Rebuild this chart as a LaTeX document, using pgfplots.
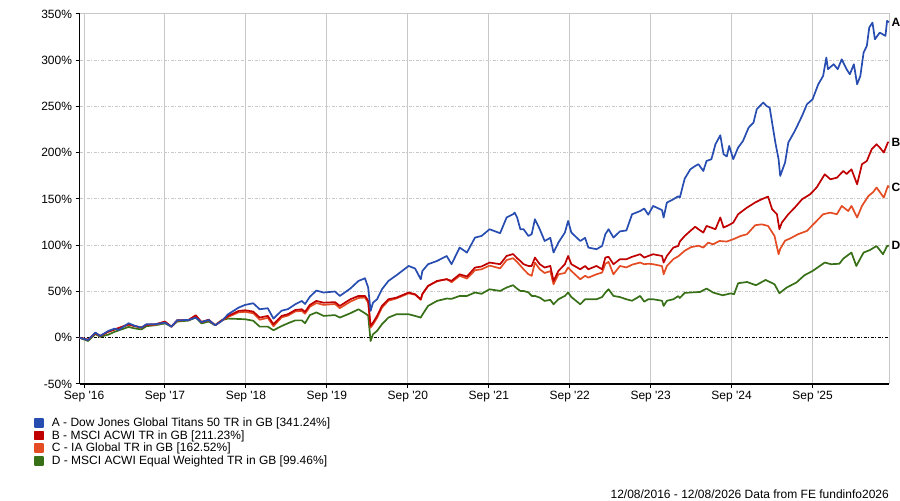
\documentclass[border=0pt]{standalone}
\usepackage{pgfplots}
\pgfplotsset{compat=1.18}
\usepackage{fontspec}
\setmainfont{Liberation Sans}[Ligatures=TeXOff]

\definecolor{serA}{RGB}{40,77,177}
\definecolor{serB}{RGB}{192,0,0}
\definecolor{serC}{RGB}{228,76,36}
\definecolor{serD}{RGB}{56,112,24}
\definecolor{gridgray}{RGB}{200,200,200}

\newcommand{\chartfont}{\fontsize{12bp}{14bp}\selectfont}

\begin{document}
\begin{tikzpicture}
\path[use as bounding box] (0bp,0bp) rectangle (900bp,501bp);
\begin{axis}[
  at={(79.5bp,117bp)}, anchor=south west, scale only axis,
  width=809.5bp, height=370bp,
  xmin=2016.614, xmax=2026.614, ymin=-50, ymax=350,
  axis x line*=bottom, axis y line*=left,
  axis line style={black, line width=1.3bp, -},
  xtick={2016.67,2017.67,2018.67,2019.67,2020.67,2021.67,2022.67,2023.67,2024.67,2025.67},
  xticklabels={Sep '16,Sep '17,Sep '18,Sep '19,Sep '20,Sep '21,Sep '22,Sep '23,Sep '24,Sep '25},
  ytick={-50,0,50,100,150,200,250,300,350},
  yticklabels={-50\%,0\%,50\%,100\%,150\%,200\%,250\%,300\%,350\%},
  tick align=outside, major tick length=4bp,
  tick style={black, line width=1bp},
  xmajorgrids, major grid style={gridgray, line width=1bp, solid},
  ticklabel style={font=\chartfont},
  clip=false,
  every axis plot/.append style={line width=1.7bp, line join=round, no markers},
  reverse legend,
  legend cell align=left,
  legend image code/.code={\fill[#1] (0bp,-3bp) rectangle (8bp,5bp);},
  legend style={at={(axis description cs:-0.0562,-0.09)}, anchor=north west,
    draw=none, fill=none, inner sep=0pt, font=\chartfont, row sep=0bp,
    nodes={inner sep=0bp, text height=9bp, text depth=3.7bp},
    /tikz/every odd column/.append style={column sep=8bp}},
]
% horizontal grid, zero line and grey frame
\pgfplotsinvokeforeach{50,100,150,200,250,300}{
  \draw[gridgray, line width=1bp, dash pattern=on 3bp off 1.5bp on 1bp off 1.5bp]
    (axis cs:2016.614,#1) -- (axis cs:2026.614,#1);
}
\draw[black, line width=1bp, dash pattern=on 3bp off 1.5bp on 1bp off 1.5bp]
  (axis cs:2016.614,0) -- (axis cs:2026.614,0);
\draw[gridgray, line width=1bp] (axis description cs:0,1) -- (axis description cs:1,1) -- (axis description cs:1,0);

% D - MSCI ACWI Equal Weighted
\addplot[color=serD] coordinates {
(2016.614,0) (2016.72,-3.5) (2016.81,4.0) (2016.87,1.0) (2016.97,3.4) (2017.05,6.5)
(2017.22,11.7) (2017.30,10.0) (2017.38,9.0) (2017.44,12.5) (2017.55,13.5) (2017.67,15.5)
(2017.75,12.0) (2017.82,17.5) (2017.96,18.5) (2018.05,22.0) (2018.12,15.5) (2018.21,17.5)
(2018.29,13.5) (2018.37,19.0) (2018.45,20.7) (2018.58,20.3) (2018.66,20.0) (2018.76,18.4)
(2018.84,12.0) (2018.94,12.0) (2019.01,8.1) (2019.11,12.6) (2019.19,15.7) (2019.28,18.8)
(2019.36,18.8) (2019.40,15.7) (2019.46,24.5) (2019.54,27.4) (2019.63,23.6) (2019.77,24.5)
(2019.83,21.8) (2019.96,26.5) (2020.06,30.8) (2020.14,26.5) (2020.18,24.0) (2020.21,-3.5)
(2020.24,3.8) (2020.29,7.4) (2020.35,14.6) (2020.43,21.8) (2020.53,25.4) (2020.68,25.4)
(2020.76,23.6) (2020.83,21.8) (2020.85,25.0) (2020.92,34.4) (2021.03,39.8) (2021.15,42.4)
(2021.21,42.0) (2021.31,45.2) (2021.40,45.2) (2021.50,48.9) (2021.58,47.5) (2021.68,52.4)
(2021.81,50.6) (2021.89,54.3) (2021.97,56.8) (2022.02,53.0) (2022.06,50.6) (2022.10,50.6)
(2022.16,49.0) (2022.20,45.2) (2022.24,45.2) (2022.30,43.4) (2022.36,39.8) (2022.43,41.0)
(2022.47,36.2) (2022.53,41.6) (2022.61,45.2) (2022.65,48.9) (2022.69,44.0) (2022.80,36.2)
(2022.86,41.6) (2022.90,41.6) (2023.00,41.6) (2023.07,44.0) (2023.11,48.9) (2023.15,52.4)
(2023.21,45.2) (2023.29,44.0) (2023.37,41.6) (2023.44,40.0) (2023.54,45.2) (2023.59,39.0)
(2023.64,41.6) (2023.70,41.6) (2023.81,40.0) (2023.83,34.4) (2023.87,40.0) (2023.95,41.6)
(2024.01,45.0) (2024.03,43.0) (2024.09,48.5) (2024.16,48.9) (2024.28,49.5) (2024.36,53.2)
(2024.44,48.9) (2024.56,45.9) (2024.66,48.0) (2024.70,47.0) (2024.75,58.9) (2024.86,60.3)
(2024.97,56.8) (2025.09,62.5) (2025.20,57.8) (2025.26,48.1) (2025.35,54.3) (2025.47,59.7)
(2025.57,67.6) (2025.67,72.2) (2025.82,81.3) (2025.90,79.5) (2026.00,80.0) (2026.05,85.6)
(2026.15,92.1) (2026.21,77.6) (2026.30,92.1) (2026.38,94.9) (2026.46,99.2) (2026.54,90.3)
(2026.59,99.2) (2026.614,99.46)
};
\addlegendentry{D - MSCI ACWI Equal Weighted TR in GB [99.46\%]}

% C - IA Global
\addplot[color=serC] coordinates {
(2016.614,0) (2016.72,-2.2) (2016.81,5.0) (2016.87,2.0) (2016.97,6.5) (2017.05,9.0)
(2017.22,14.0) (2017.30,12.5) (2017.38,11.0) (2017.44,14.0) (2017.55,14.0) (2017.67,17.0)
(2017.75,12.0) (2017.82,18.5) (2017.96,19.0) (2018.05,23.5) (2018.12,17.0) (2018.21,19.0)
(2018.29,13.5) (2018.37,18.5) (2018.45,22.5) (2018.58,27.5) (2018.66,28.0) (2018.76,26.5)
(2018.84,19.5) (2018.94,21.5) (2019.01,12.5) (2019.11,22.0) (2019.19,24.0) (2019.28,28.5)
(2019.36,29.0) (2019.40,26.0) (2019.46,33.5) (2019.54,37.5) (2019.63,35.5) (2019.77,36.5)
(2019.83,32.0) (2019.96,39.0) (2020.06,43.0) (2020.14,43.5) (2020.18,38.0) (2020.21,11.0)
(2020.24,14.5) (2020.29,21.5) (2020.35,32.5) (2020.43,40.0) (2020.53,42.5) (2020.68,48.0)
(2020.76,46.5) (2020.83,41.0) (2020.85,47.0) (2020.92,56.0) (2021.03,61.0) (2021.15,63.5)
(2021.21,60.0) (2021.31,67.0) (2021.40,64.0) (2021.50,73.0) (2021.58,74.0) (2021.68,78.0)
(2021.81,75.0) (2021.89,84.0) (2021.97,86.0) (2022.02,82.0) (2022.06,78.0) (2022.10,74.0)
(2022.16,68.6) (2022.20,67.0) (2022.24,81.3) (2022.30,74.0) (2022.36,70.0) (2022.43,72.0)
(2022.47,57.8) (2022.53,68.6) (2022.61,70.0) (2022.65,76.0) (2022.69,72.2) (2022.80,63.2)
(2022.86,67.0) (2022.90,65.0) (2023.00,68.6) (2023.07,70.5) (2023.11,80.0) (2023.15,82.0)
(2023.21,68.6) (2023.29,77.6) (2023.37,76.0) (2023.44,79.0) (2023.54,81.3) (2023.59,79.5)
(2023.64,80.0) (2023.70,79.5) (2023.81,77.5) (2023.83,68.6) (2023.87,77.6) (2023.95,85.0)
(2024.01,88.0) (2024.09,94.0) (2024.17,98.0) (2024.26,99.5) (2024.32,97.5) (2024.38,102.9)
(2024.44,101.0) (2024.52,104.6) (2024.61,104.0) (2024.69,106.5) (2024.78,110.0) (2024.86,111.9)
(2024.96,121.6) (2025.04,122.6) (2025.12,120.9) (2025.20,110.0) (2025.25,90.3) (2025.27,96.0)
(2025.33,105.0) (2025.39,107.2) (2025.49,111.9) (2025.60,115.5) (2025.68,122.7) (2025.80,133.5)
(2025.89,135.3) (2025.97,133.5) (2026.03,142.5) (2026.11,137.0) (2026.15,142.5) (2026.22,130.0)
(2026.28,142.5) (2026.36,153.3) (2026.42,157.6) (2026.46,162.4) (2026.50,157.6) (2026.55,151.5)
(2026.60,164.1) (2026.614,162.52)
};
\addlegendentry{C - IA Global TR in GB [162.52\%]}

% B - MSCI ACWI
\addplot[color=serB] coordinates {
(2016.614,0) (2016.72,-2.0) (2016.81,5.0) (2016.87,2.0) (2016.97,6.5) (2017.05,9.0)
(2017.22,14.5) (2017.30,12.5) (2017.38,11.0) (2017.44,14.0) (2017.55,14.5) (2017.67,17.5)
(2017.75,12.0) (2017.82,18.9) (2017.96,19.2) (2018.05,24.3) (2018.12,17.0) (2018.21,19.5)
(2018.29,13.5) (2018.37,18.5) (2018.45,23.6) (2018.58,29.0) (2018.66,29.7) (2018.76,28.3)
(2018.84,21.8) (2018.94,23.6) (2019.01,14.6) (2019.11,23.6) (2019.19,25.5) (2019.28,30.0)
(2019.36,30.8) (2019.40,28.0) (2019.46,35.5) (2019.54,39.8) (2019.63,37.9) (2019.77,38.5)
(2019.83,34.4) (2019.96,41.6) (2020.06,45.2) (2020.14,45.2) (2020.18,40.0) (2020.21,12.8)
(2020.24,16.4) (2020.29,23.6) (2020.35,34.4) (2020.43,41.6) (2020.53,43.4) (2020.68,48.9)
(2020.76,47.0) (2020.83,41.6) (2020.85,47.5) (2020.92,56.0) (2021.03,61.4) (2021.15,63.2)
(2021.21,61.5) (2021.31,68.6) (2021.40,66.2) (2021.50,75.9) (2021.58,77.0) (2021.68,81.3)
(2021.81,79.5) (2021.89,88.4) (2021.97,90.5) (2022.02,86.0) (2022.06,83.0) (2022.10,79.5)
(2022.16,77.6) (2022.20,77.6) (2022.24,86.7) (2022.30,79.5) (2022.36,75.9) (2022.43,77.6)
(2022.47,61.4) (2022.53,72.2) (2022.61,79.5) (2022.65,88.4) (2022.69,79.5) (2022.80,74.0)
(2022.86,77.6) (2022.90,74.0) (2023.00,77.6) (2023.07,74.0) (2023.11,86.7) (2023.15,87.5)
(2023.21,79.5) (2023.29,84.9) (2023.37,84.9) (2023.44,87.5) (2023.54,90.3) (2023.59,86.7)
(2023.64,88.4) (2023.70,90.3) (2023.81,88.4) (2023.83,81.3) (2023.87,88.4) (2023.95,97.5)
(2024.01,99.2) (2024.03,104.0) (2024.09,110.0) (2024.16,115.5) (2024.22,120.0) (2024.26,117.3)
(2024.32,113.7) (2024.36,120.9) (2024.42,119.0) (2024.47,117.3) (2024.53,130.0) (2024.57,119.1)
(2024.64,122.0) (2024.69,124.5) (2024.75,133.5) (2024.86,140.7) (2024.96,146.2) (2025.04,149.7)
(2025.12,152.6) (2025.17,138.9) (2025.23,133.5) (2025.26,117.3) (2025.29,124.5) (2025.37,133.5)
(2025.45,140.7) (2025.54,149.7) (2025.64,155.1) (2025.72,162.4) (2025.82,176.7) (2025.89,171.3)
(2025.97,173.0) (2026.05,180.3) (2026.09,177.0) (2026.15,182.1) (2026.22,165.9) (2026.28,187.6)
(2026.34,191.1) (2026.40,203.8) (2026.46,209.2) (2026.50,205.6) (2026.55,200.2) (2026.60,211.2)
(2026.614,211.23)
};
\addlegendentry{B - MSCI ACWI TR in GB [211.23\%]}

% A - Dow Jones Global Titans 50
\addplot[color=serA] coordinates {
(2016.614,0) (2016.72,-2.4) (2016.81,5.6) (2016.87,2.0) (2016.97,7.4) (2017.05,9.9)
(2017.10,8.5) (2017.22,15.7) (2017.30,12.8) (2017.38,11.0) (2017.44,14.6) (2017.55,14.6)
(2017.67,16.4) (2017.75,12.0) (2017.82,18.9) (2017.96,19.2) (2018.05,21.7) (2018.12,17.0)
(2018.21,19.2) (2018.29,13.5) (2018.37,18.0) (2018.45,25.4) (2018.58,32.6) (2018.66,35.5)
(2018.76,37.3) (2018.84,30.8) (2018.94,31.9) (2019.01,20.7) (2019.11,29.2) (2019.19,31.0)
(2019.28,36.2) (2019.36,39.8) (2019.40,36.5) (2019.46,44.3) (2019.54,51.0) (2019.63,48.9)
(2019.77,50.0) (2019.83,45.2) (2019.96,53.2) (2020.06,61.4) (2020.14,64.3) (2020.18,54.3)
(2020.21,29.0) (2020.24,38.0) (2020.29,41.6) (2020.35,52.4) (2020.43,61.4) (2020.53,67.6)
(2020.68,77.6) (2020.76,74.8) (2020.83,63.2) (2020.85,72.2) (2020.92,79.5) (2021.03,83.0)
(2021.15,88.4) (2021.21,79.5) (2021.31,97.5) (2021.40,92.1) (2021.50,108.3) (2021.58,110.0)
(2021.68,117.3) (2021.81,113.0) (2021.89,130.0) (2021.97,133.5) (2021.99,135.3) (2022.02,130.0)
(2022.06,117.3) (2022.10,117.3) (2022.16,110.0) (2022.20,112.0) (2022.24,128.1) (2022.30,117.3)
(2022.36,104.6) (2022.43,108.0) (2022.47,92.1) (2022.53,102.9) (2022.61,113.7) (2022.65,126.3)
(2022.69,113.7) (2022.80,104.6) (2022.86,108.0) (2022.90,97.5) (2023.00,95.7) (2023.07,99.2)
(2023.11,112.0) (2023.15,117.3) (2023.21,108.3) (2023.29,115.0) (2023.37,116.0) (2023.44,133.5)
(2023.54,137.0) (2023.59,139.7) (2023.64,133.0) (2023.70,142.5) (2023.81,138.0) (2023.83,130.0)
(2023.87,146.2) (2023.95,149.7) (2024.01,153.0) (2024.03,151.5) (2024.09,172.0) (2024.16,182.1)
(2024.22,185.7) (2024.26,187.6) (2024.32,180.3) (2024.36,191.1) (2024.42,193.0) (2024.47,209.2)
(2024.53,218.9) (2024.57,198.4) (2024.61,196.0) (2024.64,207.4) (2024.69,193.0) (2024.75,205.6)
(2024.81,212.7) (2024.88,227.2) (2024.94,232.6) (2024.98,247.0) (2025.06,254.3) (2025.10,250.6)
(2025.14,248.8) (2025.21,211.0) (2025.25,193.0) (2025.27,174.9) (2025.33,189.4) (2025.37,211.0)
(2025.45,223.5) (2025.54,239.8) (2025.60,252.4) (2025.67,257.8) (2025.74,274.0) (2025.80,283.0)
(2025.84,302.9) (2025.86,290.3) (2025.93,295.7) (2025.98,290.3) (2026.03,301.0) (2026.09,290.3)
(2026.13,284.8) (2026.18,295.7) (2026.22,274.0) (2026.26,283.0) (2026.30,308.3) (2026.34,315.5)
(2026.37,335.4) (2026.41,340.7) (2026.44,322.7) (2026.50,329.9) (2026.57,326.3) (2026.59,342.5)
(2026.614,341.24)
};
\addlegendentry{A - Dow Jones Global Titans 50 TR in GB [341.24\%]}

% end labels
\node[anchor=west, inner sep=0pt, xshift=2.5bp, font=\chartfont\bfseries] at (axis cs:2026.614,341.24) {A};
\node[anchor=west, inner sep=0pt, xshift=2.5bp, font=\chartfont\bfseries] at (axis cs:2026.614,211.23) {B};
\node[anchor=west, inner sep=0pt, xshift=2.5bp, font=\chartfont\bfseries] at (axis cs:2026.614,162.52) {C};
\node[anchor=west, inner sep=0pt, xshift=2.5bp, font=\chartfont\bfseries] at (axis cs:2026.614,99.46) {D};
\end{axis}
\node[anchor=base east, inner sep=0pt, font=\chartfont] at (889bp,3bp) {12/08/2016 - 12/08/2026 Data from FE fundinfo2026};
\end{tikzpicture}
\end{document}
